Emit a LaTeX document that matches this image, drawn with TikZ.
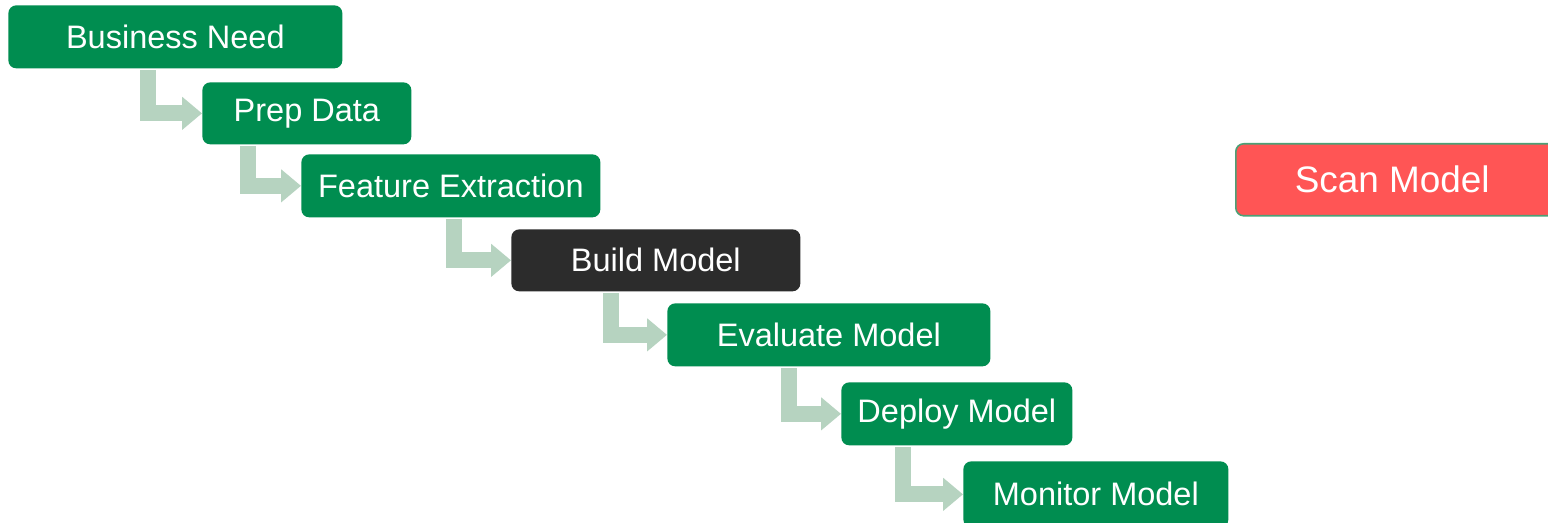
\documentclass[tikz,border=0pt]{standalone}
\usepackage{fontspec}
\setmainfont{Liberation Sans}
\usetikzlibrary{arrows.meta}
\definecolor{stepgreen}{RGB}{0,141,80}
\definecolor{stepdark}{RGB}{44,44,44}
\definecolor{flowarrow}{RGB}{182,211,192}
\definecolor{scanred}{RGB}{255,85,85}
\definecolor{scanedge}{RGB}{76,160,118}
\tikzset{
  x=0.02cm, y=-0.02cm,
  stage/.style={rectangle, rounded corners=4.5pt, fill=stepgreen, text=white,
    inner sep=0pt, font=\fontsize{18.5}{20}\selectfont, anchor=north west},
  flow/.style={draw=flowarrow, line width=9.07pt, shorten <=1pt,
    -{Triangle[length=11.3pt, width=18.1pt]}},
}
\begin{document}
\begin{tikzpicture}
\clip (0,0) rectangle (1548,523);
\useasboundingbox (0,0) rectangle (1548,523);
\fill[white] (0,0) rectangle (1548,523);

% pipeline stages
\node[stage, minimum width=334*0.02cm, minimum height=63*0.02cm] (need) at (8,5) {Business Need};
\node[stage, minimum width=209*0.02cm, minimum height=62*0.02cm] (prep) at (202,82) {Prep Data};
\node[stage, minimum width=299*0.02cm, minimum height=63*0.02cm] (feat) at (301,154) {Feature Extraction};
\node[stage, fill=stepdark, minimum width=289*0.02cm, minimum height=62*0.02cm] (build) at (511,229) {Build Model};
\node[stage, minimum width=323*0.02cm, minimum height=63*0.02cm] (eval) at (667,303) {Evaluate Model};
\node[stage, minimum width=231*0.02cm, minimum height=63*0.02cm] (deploy) at (841,382) {Deploy Model};
\node[stage, minimum width=265*0.02cm, minimum height=66*0.02cm] (monitor) at (963,461) {Monitor Model};

% separate scanning step
\node[stage, fill=scanred, draw=scanedge, line width=0.9pt,
  font=\fontsize{21}{24}\selectfont,
  minimum width=320*0.02cm, minimum height=72*0.02cm] (scan) at (1235,143)
  {\hspace*{-4pt}Scan Model};

% elbow connectors between consecutive stages
\draw[flow] (need.south -| 148,0) |- (prep.west);
\draw[flow] (prep.south -| 248,0) |- (feat.west);
\draw[flow] (feat.south -| 454,0) |- (build.west);
\draw[flow] (build.south -| 611,0) |- (eval.west);
\draw[flow] (eval.south -| 789,0) |- (deploy.west);
\draw[flow] (deploy.south -| 903,0) |- (monitor.west);
\end{tikzpicture}
\end{document}
